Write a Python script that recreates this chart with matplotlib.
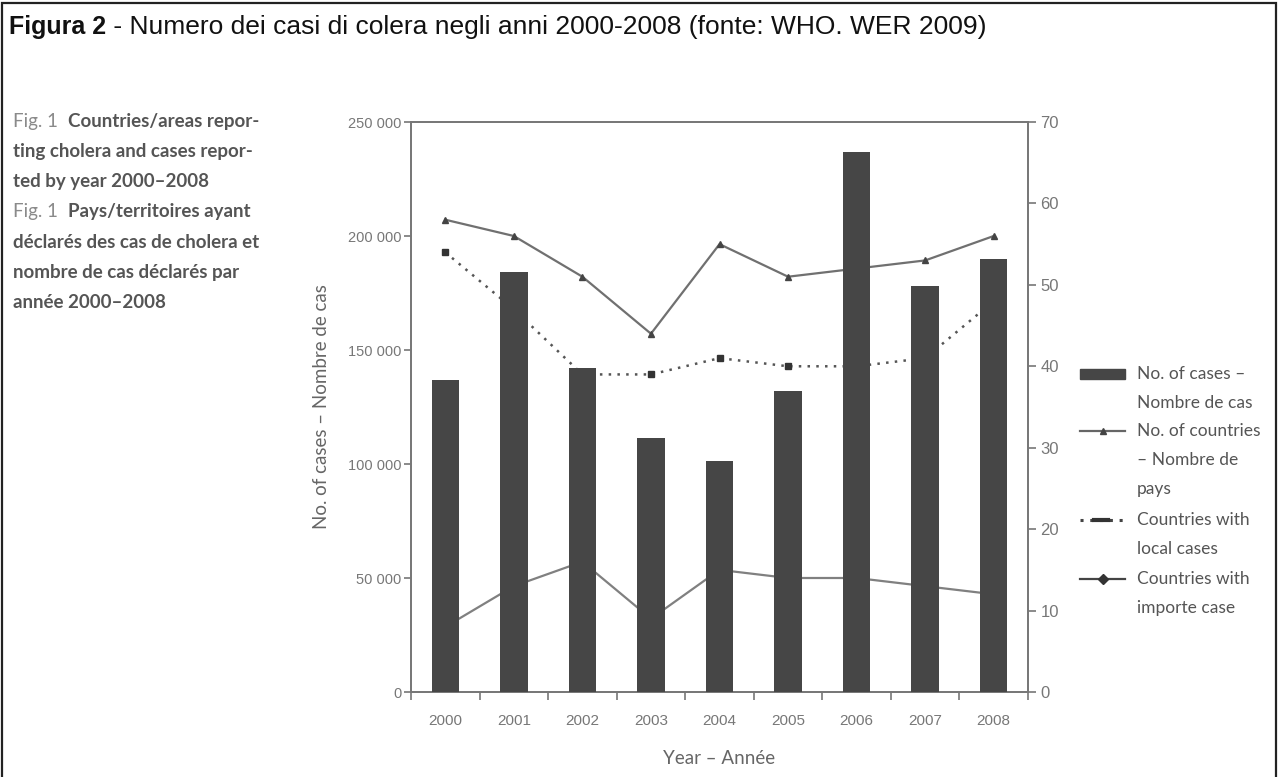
import matplotlib
matplotlib.use("Agg")
import matplotlib.pyplot as plt
from matplotlib.patches import Rectangle
from matplotlib.lines import Line2D
from matplotlib.ticker import FuncFormatter

# data
years = ["2000", "2001", "2002", "2003", "2004", "2005", "2006", "2007", "2008"]
cases = [137000, 184300, 142300, 111600, 101400, 132000, 236900, 178000, 190100]
countries = [58, 56, 51, 44, 55, 51, 52, 53, 56]
local_cases = [54, 47, 39, 39, 41, 40, 40, 41, 48]
imported = [8, 13, 16, 9, 15, 14, 14, 13, 12]

GRAY = "#777777"
DARK = "#464646"
FONT = ["Lato", "DejaVu Sans"]

plt.rcParams["font.family"] = ["Liberation Sans", "DejaVu Sans"]

W, H = 1278, 777
fig = plt.figure(figsize=(W / 100, H / 100), dpi=100)
fig.patch.set_facecolor("white")


def fx(px):
    return px / W


def fy(py):
    return 1 - py / H


# outer frame of the figure box
fig.add_artist(Rectangle((fx(2), -0.05), (W - 4) / W, 1.05 - 3 / H, transform=fig.transFigure,
                         fill=False, edgecolor="#222222", linewidth=1.6))

t = fig.text(fx(9), fy(27), "Figura 2", fontsize=18, fontweight="bold", va="center",
             color="#111111")
fig.canvas.draw()
x_after = t.get_window_extent().x1 / W
fig.text(x_after, fy(27), " - Numero dei casi di colera negli anni 2000-2008 (fonte: WHO. WER 2009)",
         fontsize=19, va="center", color="#111111")

# caption block on the left
caption = [
    ("Fig. 1  ", "Countries/areas repor-"),
    ("", "ting cholera and cases repor-"),
    ("", "ted by year 2000–2008"),
    ("Fig. 1  ", "Pays/territoires ayant"),
    ("", "déclarés des cas de cholera et"),
    ("", "nombre de cas déclarés par"),
    ("", "année 2000–2008"),
]
for i, (pre, txt) in enumerate(caption):
    y = fy(122 + i * 30)
    x = fx(13)
    if pre:
        tt = fig.text(x, y, pre, fontsize=13.5, color="#8a8a8a", va="center", family=FONT)
        fig.canvas.draw()
        x = tt.get_window_extent().x1 / W
    fig.text(x, y, txt, fontsize=13.5, color="#555555", fontweight="bold", va="center",
             family=FONT)

ax = fig.add_axes([fx(411), fy(692), 617 / W, 570 / H])
ax2 = ax.twinx()

xpos = list(range(len(years)))
ax.bar(xpos, cases, width=0.4, color=DARK, zorder=3)

ax2.plot(xpos, countries, color="#707070", lw=1.6, marker="^", ms=4, mfc="#444444",
         mec="#444444")
ax2.plot(xpos, local_cases, color="#555555", lw=1.8, ls=(0, (1, 2.5)), marker="s", ms=4,
         mfc="#333333", mec="#333333")
ax2.plot(xpos, imported, color="#808080", lw=1.6, marker="D", ms=3.5, mfc="#444444",
         mec="#444444")

# bars sit above the lines
ax.set_zorder(ax2.get_zorder() + 1)
ax.patch.set_visible(False)

ax.set_xlim(-0.5, len(years) - 0.5)
ax.set_ylim(0, 250000)
ax2.set_ylim(0, 70)
ax.set_yticks(range(0, 250001, 50000))
ax.yaxis.set_major_formatter(FuncFormatter(lambda v, p: f"{int(v):,}".replace(",", " ")))
ax2.set_yticks(range(0, 71, 10))

ax.set_xticks([i + 0.5 for i in range(-1, len(years))])
ax.set_xticklabels([])
ax.set_xticks(xpos, minor=True)
ax.set_xticklabels(years, minor=True)
ax.tick_params(axis="x", which="major", length=6, width=1.2, color=GRAY, direction="out")
ax.tick_params(axis="x", which="minor", length=0, pad=16, labelsize=11, labelcolor=GRAY)
ax.tick_params(axis="y", length=5, width=1.2, color=GRAY, labelsize=10.5, labelcolor=GRAY,
               pad=2)
ax2.tick_params(axis="y", length=6, width=1.2, color=GRAY, labelsize=12, labelcolor=GRAY,
                pad=3)

for a in (ax, ax2):
    for s in a.spines.values():
        s.set_color(GRAY)
        s.set_linewidth(1.3)

ax.set_ylabel("No. of cases – Nombre de cas", fontsize=13.5, color="#666666", family=FONT,
              labelpad=13)
ax.set_xlabel("Year – Année", fontsize=13.5, color="#666666", family=FONT, labelpad=16)

# legend drawn by hand so each marker lines up with the first text row
legend_rows = [
    ["No. of cases –", "Nombre de cas"],
    ["No. of countries", "– Nombre de", "pays"],
    ["Countries with", "local cases"],
    ["Countries with", "importe case"],
]
row_y = [374, 431, 520, 579]
hx0, hx1, tx = 1080, 1125, 1137
line_gap = 29
for k, (rows, y) in enumerate(zip(legend_rows, row_y)):
    for j, s in enumerate(rows):
        fig.text(fx(tx), fy(y + j * line_gap), s, fontsize=12.5, color="#555555",
                 family=FONT, va="center")
    if k == 0:
        fig.add_artist(Rectangle((fx(hx0), fy(y + 5)), (hx1 - hx0) / W, 10 / H,
                                 transform=fig.transFigure, color=DARK))
    elif k == 1:
        fig.add_artist(Line2D([fx(hx0), fx(hx1)], [fy(y), fy(y)], color="#666666", lw=1.6,
                              transform=fig.transFigure))
        fig.add_artist(Line2D([fx((hx0 + hx1) / 2)], [fy(y)], marker="^", ms=4, color="#444444",
                              transform=fig.transFigure))
    elif k == 2:
        fig.add_artist(Line2D([fx(hx0), fx(hx1)], [fy(y), fy(y)], color="#444444", lw=2.2,
                              ls=(0, (1, 2.2)), transform=fig.transFigure))
        fig.add_artist(Line2D([fx(hx0 + 14), fx(hx0 + 28)], [fy(y), fy(y)], color="#333333",
                              lw=3, transform=fig.transFigure))
    else:
        fig.add_artist(Line2D([fx(hx0), fx(hx1)], [fy(y), fy(y)], color="#444444", lw=1.6,
                              transform=fig.transFigure))
        fig.add_artist(Line2D([fx((hx0 + hx1) / 2)], [fy(y)], marker="D", ms=5, color="#333333",
                              transform=fig.transFigure))

fig.savefig("out.png", dpi=100)
